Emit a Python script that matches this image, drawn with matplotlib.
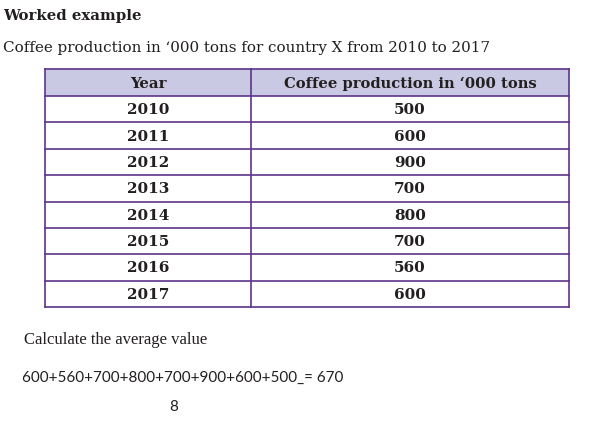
import matplotlib.pyplot as plt

# table data
years = ['2010', '2011', '2012', '2013', '2014', '2015', '2016', '2017']
production = [500, 600, 900, 700, 800, 700, 560, 600]
col_labels = ['Year', "Coffee production in \u2018000 tons"]

W, H = 589, 432
fig = plt.figure(figsize=(W / 100, H / 100), dpi=100)
ax = fig.add_axes([0, 0, 1, 1])
ax.set_xlim(0, W)
ax.set_ylim(H, 0)
ax.axis('off')

serif = 'DejaVu Serif'
border = '#5e3389'
head_fill = '#c9c9e3'
ink = '#231f20'

ax.text(3, 16, 'Worked example', fontsize=10.7, fontweight='bold',
        family=serif, va='center', ha='left', color=ink)
ax.text(3, 48, "Coffee production in \u2018000 tons for country X from 2010 to 2017",
        fontsize=10.9, family=serif, va='center', ha='left', color=ink)

# table geometry
x0, xm, x1 = 45, 251, 569
top, head_bot = 69, 96
row_h = (307 - head_bot) / len(years)

ax.add_patch(plt.Rectangle((x0, top), x1 - x0, head_bot - top,
                           facecolor=head_fill, edgecolor='none'))
ax.text((x0 + xm) / 2, (top + head_bot) / 2 + 1, col_labels[0], fontsize=10.7,
        fontweight='bold', family=serif, ha='center', va='center', color=ink)
ax.text((xm + x1) / 2, (top + head_bot) / 2 + 1, col_labels[1], fontsize=10.6,
        fontweight='bold', family=serif, ha='center', va='center', color=ink)

for i, (yr, val) in enumerate(zip(years, production)):
    cy = head_bot + row_h * (i + 0.5)
    ax.text((x0 + xm) / 2, cy + 1, yr, fontsize=11, fontweight='bold',
            family=serif, ha='center', va='center', color=ink)
    ax.text((xm + x1) / 2, cy + 1, str(val), fontsize=11, fontweight='bold',
            family=serif, ha='center', va='center', color=ink)

bottom = head_bot + row_h * len(years)
ys = [top, head_bot] + [head_bot + row_h * (i + 1) for i in range(len(years))]
for y in ys:
    ax.plot([x0, x1], [y, y], color=border, lw=1.2, solid_capstyle='projecting')
for x in (x0, xm, x1):
    ax.plot([x, x], [top, bottom], color=border, lw=1.2, solid_capstyle='projecting')

ax.text(24, 340, 'Calculate the average value', fontsize=12, family='Liberation Serif',
        va='center', ha='left', color=ink)

formula = '+'.join(str(v) for v in production[::-1]) + '_= ' + str(round(sum(production) / len(years)))
ax.text(22, 378, formula, fontsize=11, family='Lato', va='center', ha='left',
        color=ink)
ax.text(174, 407, str(len(years)), fontsize=11, family='Lato', va='center',
        ha='center', color=ink)

fig.savefig('out.png', dpi=100)
